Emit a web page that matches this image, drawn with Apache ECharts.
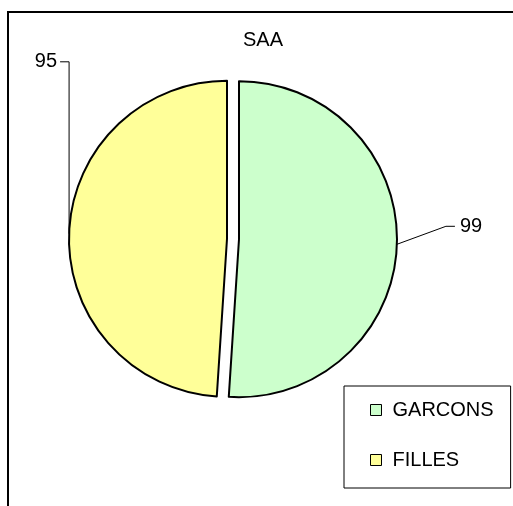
<!DOCTYPE html>
<html><head><meta charset="utf-8">
<script src="https://cdn.jsdelivr.net/npm/echarts@6/dist/echarts.min.js"></script>
<style>html,body{margin:0;padding:0;background:#fff}#c{width:513px;height:506px}</style>
</head><body><div id="c"></div>
<script>
const chartTitle = 'SAA';
const categories = ['GARCONS', 'FILLES'];
const values = [99, 95];
const colors = ['#CCFFCC', '#FFFF99'];

const FONT = 'Liberation Sans, Arial, sans-serif';
const CX = 233, CY = 239, R = 158, EXPLODE = 6;
const total = values.reduce((a, b) => a + b, 0);

// Label placement in the Excel style: right label beside the slice, left label above it.
function sliceLabelLayout(p) {
  const pts = p.labelLinePoints;
  if (!pts || !pts[0]) return {};
  const s = pts[0];
  if (s[0] > CX) {
    const p1 = [s[0] + 49, s[1] - 18];
    const p2 = [p1[0] + 9, p1[1]];
    return {x: p2[0] + 5, y: p2[1], align: 'left', verticalAlign: 'middle', labelLinePoints: [s, p1, p2]};
  }
  const top = p.rect.y - 18;
  const p1 = [s[0], top];
  const p2 = [s[0] - 9, top];
  return {x: p2[0] - 3 - p.labelRect.width, y: top, align: 'left', verticalAlign: 'middle', labelLinePoints: [s, p1, p2]};
}

let cum = 0;
const series = categories.map((name, i) => {
  const mid = 90 - (cum + values[i] / 2) / total * 360;
  cum += values[i];
  const rad = mid * Math.PI / 180;
  return {
    type: 'pie', radius: R, startAngle: 90, clockwise: true,
    center: [CX + EXPLODE * Math.cos(rad), CY - EXPLODE * Math.sin(rad)],
    itemStyle: {borderColor: '#000', borderWidth: 2},
    label: {show: true, formatter: '{c}', fontSize: 20, color: '#000', fontFamily: FONT, overflow: 'none'},
    labelLine: {show: true, lineStyle: {color: '#000', width: 1}},
    emphasis: {disabled: true},
    silent: true,
    labelLayout: sliceLabelLayout,
    data: categories.map((n, j) => j === i
      ? {name: n, value: values[j], itemStyle: {color: colors[j]}}
      : {name: ' ' + n, value: values[j], itemStyle: {color: 'rgba(0,0,0,0)', borderWidth: 0},
         label: {show: false}, labelLine: {show: false}})
  };
});

const chart = echarts.init(document.getElementById('c'), null, {renderer: 'canvas'});
chart.setOption({
  animation: false,
  backgroundColor: '#fff',
  textStyle: {fontFamily: FONT},
  title: {text: chartTitle, left: 243, top: 30, padding: 0,
    textStyle: {fontSize: 20, fontWeight: 'normal', color: '#000', fontFamily: FONT}},
  graphic: [{type: 'rect', shape: {x: 8, y: 12, width: 600, height: 600},
    style: {fill: 'none', stroke: '#000', lineWidth: 2}, silent: true, z: -1}],
  legend: {orient: 'vertical', left: 344, top: 386, padding: [14, 17, 18, 26], itemGap: 30,
    itemWidth: 11, itemHeight: 11, borderColor: '#000', borderWidth: 1, icon: 'rect',
    itemStyle: {borderColor: '#000', borderWidth: 1},
    textStyle: {fontSize: 20, color: '#000', lineHeight: 20, padding: [0, 0, 0, 6], fontFamily: FONT},
    data: categories, selectedMode: false},
  series: series
});
</script></body></html>
